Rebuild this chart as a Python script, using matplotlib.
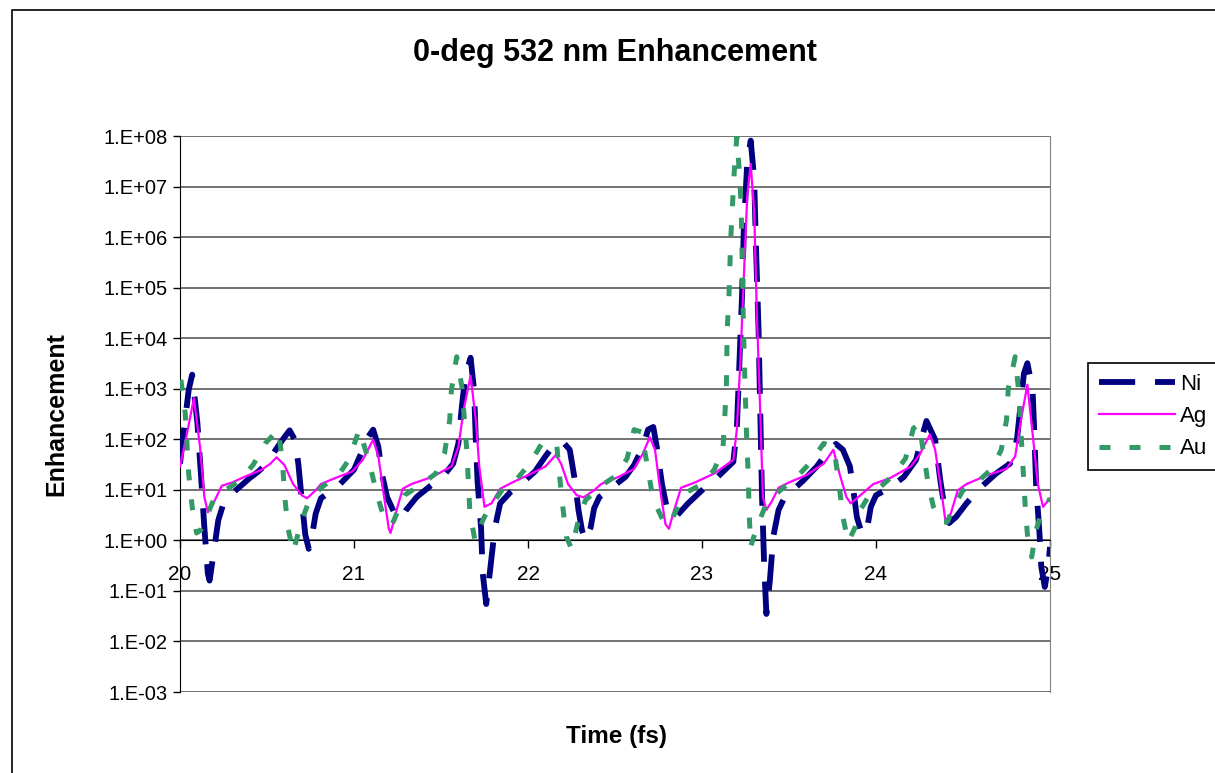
import math
import matplotlib.pyplot as plt
from matplotlib.patches import Rectangle
from matplotlib.ticker import FixedLocator, FuncFormatter

plt.rcParams['font.family'] = ['Liberation Sans', 'DejaVu Sans']

# time (fs) and enhancement per metal
ni_t = [20.00, 20.02, 20.05, 20.07, 20.10, 20.12, 20.14, 20.16, 20.17, 20.19,
        20.22, 20.25, 20.30, 20.35, 20.40, 20.45, 20.50, 20.55, 20.60, 20.63,
        20.66, 20.68, 20.70, 20.72, 20.74, 20.76, 20.78, 20.81, 20.86, 20.91,
        20.96, 21.00, 21.04, 21.08, 21.11, 21.14, 21.16, 21.19, 21.23, 21.27,
        21.30, 21.36, 21.44, 21.51, 21.57, 21.60, 21.62, 21.64, 21.67, 21.69,
        21.70, 21.71, 21.73, 21.74, 21.76, 21.78, 21.81, 21.84, 21.90, 21.97,
        22.04, 22.10, 22.15, 22.20, 22.24, 22.27, 22.29, 22.31, 22.33, 22.36,
        22.38, 22.41, 22.48, 22.56, 22.61, 22.66, 22.69, 22.72, 22.74, 22.77,
        22.80, 22.83, 22.86, 22.92, 23.00, 23.09, 23.18, 23.20, 23.215, 23.23,
        23.24, 23.26, 23.28, 23.30, 23.31, 23.325, 23.335, 23.345, 23.357, 23.37,
        23.39, 23.41, 23.44, 23.48, 23.51, 23.58, 23.66, 23.72, 23.77, 23.81,
        23.85, 23.87, 23.89, 23.92, 23.95, 23.97, 24.00, 24.08, 24.16, 24.23,
        24.27, 24.29, 24.34, 24.37, 24.39, 24.42, 24.46, 24.52, 24.60, 24.69,
        24.77, 24.81, 24.83, 24.85, 24.87, 24.90, 24.91, 24.92, 24.94, 24.95,
        24.97, 24.99, 25.00]
ni_e = [33, 130, 950, 1900, 210, 21, 1.8, 0.22, 0.16, 0.47,
        2.5, 5.4, 8.5, 12, 17, 23, 33, 62, 110, 150,
        98, 33, 6.2, 1.3, 0.68, 1.3, 3.4, 6.8, 9.1, 12,
        18, 25, 52, 110, 155, 71, 21, 7.2, 3.6, 2.7,
        4.0, 7.2, 12, 18, 33, 83, 450, 1800, 4100, 950,
        98, 15, 1.8, 0.22, 0.055, 0.22, 1.8, 5.4, 9.1, 14,
        23, 46, 78, 89, 62, 15, 4.0, 1.6, 1.0, 1.8,
        4.3, 7.2, 11, 18, 31, 71, 155, 175, 71, 13,
        4.0, 2.9, 3.2, 5.4, 9.8, 18, 36, 155, 3200, 6.8e4,
        1.4e6, 3.0e7, 8.1e7, 1.4e7, 6.8e5, 1.5e4, 330, 7.2, 0.35, 0.035,
        0.16, 1.2, 4.0, 7.8, 9.1, 15, 29, 56, 81, 62,
        29, 9.8, 2.9, 1.3, 1.8, 4.6, 7.8, 11, 18, 39,
        130, 230, 98, 15, 5.4, 2.2, 2.9, 5.4, 11, 21,
        33, 98, 450, 2000, 3200, 950, 130, 13, 1.3, 0.30,
        0.12, 0.30, 0.74]

ag_t = [20.00, 20.04, 20.08, 20.115, 20.14, 20.16, 20.20, 20.24, 20.30, 20.37,
        20.47, 20.52, 20.555, 20.60, 20.65, 20.70, 20.73, 20.78, 20.81, 20.89,
        20.99, 21.05, 21.11, 21.14, 21.17, 21.20, 21.21, 21.245, 21.28, 21.33,
        21.45, 21.56, 21.60, 21.63, 21.67, 21.70, 21.72, 21.75, 21.79, 21.84,
        21.91, 22.02, 22.10, 22.16, 22.19, 22.23, 22.28, 22.32, 22.38, 22.42,
        22.52, 22.61, 22.66, 22.70, 22.73, 22.76, 22.79, 22.81, 22.84, 22.88,
        22.96, 23.07, 23.18, 23.20, 23.22, 23.24, 23.26, 23.28, 23.30, 23.315,
        23.335, 23.35, 23.37, 23.40, 23.44, 23.50, 23.60, 23.70, 23.755, 23.79,
        23.83, 23.855, 23.91, 23.985, 24.08, 24.20, 24.25, 24.31, 24.34, 24.37,
        24.40, 24.43, 24.47, 24.52, 24.64, 24.75, 24.80, 24.83, 24.87, 24.90,
        24.93, 24.96, 25.00]
ag_e = [29, 130, 650, 71, 7.2, 3.6, 6.2, 12, 14, 18,
        25, 33, 44, 31, 13, 7.8, 6.8, 9.8, 13, 17,
        23, 39, 98, 46, 8.5, 1.7, 1.4, 4.0, 10.5, 13,
        18, 29, 71, 380, 1800, 240, 29, 4.6, 5.4, 10.5,
        14, 21, 29, 49, 33, 13, 7.8, 7.1, 9.8, 13,
        18, 26, 52, 110, 62, 9.8, 2.1, 1.7, 4.0, 11,
        14, 21, 39, 155, 3200, 1.5e5, 6.6e6, 2.8e7, 3.1e6, 3.2e4,
        330, 7.2, 4.0, 5.8, 11, 14, 19.5, 33, 62, 21,
        7.2, 5.4, 7.8, 13, 17, 29, 49, 125, 62, 13,
        2.3, 3.4, 9.8, 13, 19.5, 26, 46, 210, 1200, 130,
        13, 4.6, 6.8]

au_t = [20.005, 20.03, 20.05, 20.07, 20.095, 20.12, 20.16, 20.20, 20.26, 20.34,
        20.42, 20.49, 20.565, 20.59, 20.60, 20.62, 20.65, 20.70, 20.74, 20.81,
        20.91, 20.97, 21.03, 21.09, 21.13, 21.18, 21.22, 21.29, 21.39, 21.47,
        21.52, 21.55, 21.56, 21.59, 21.62, 21.635, 21.648, 21.657, 21.666, 21.695,
        21.74, 21.77, 21.85, 21.94, 22.01, 22.08, 22.10, 22.165, 22.18, 22.20,
        22.22, 22.25, 22.29, 22.33, 22.42, 22.51, 22.57, 22.61, 22.65, 22.68,
        22.71, 22.74, 22.78, 22.81, 22.90, 23.00, 23.07, 23.12, 23.13, 23.14,
        23.145, 23.155, 23.165, 23.175, 23.185, 23.20, 23.215, 23.225, 23.232, 23.238,
        23.248, 23.257, 23.267, 23.27, 23.28, 23.315, 23.37, 23.45, 23.545, 23.61,
        23.70, 23.745, 23.765, 23.79, 23.81, 23.84, 23.88, 23.91, 23.95, 24.02,
        24.10, 24.17, 24.215, 24.25, 24.27, 24.30, 24.33, 24.37, 24.41, 24.445,
        24.50, 24.59, 24.665, 24.72, 24.75, 24.76, 24.80, 24.82, 24.83, 24.84,
        24.85, 24.86, 24.875, 24.895, 24.92, 24.95, 24.98, 25.00]
au_e = [1500, 330, 21, 4.6, 1.4, 1.6, 3.4, 7.2, 9.8, 15,
        31, 83, 155, 33, 8.5, 1.8, 0.59, 2.5, 5.8, 11,
        19.5, 39, 155, 33, 8.5, 2.3, 2.1, 7.8, 13, 21,
        52, 240, 950, 4300, 1100, 240, 62, 15, 3.6, 1.0,
        2.5, 4.0, 9.8, 17, 33, 83, 89, 78, 21, 4.6,
        1.2, 0.68, 2.5, 6.2, 12, 19.5, 42, 155, 140, 39,
        9.8, 4.6, 2.3, 2.0, 8.5, 13, 25, 62, 240, 1100,
        1.5e4, 6.8e4, 9.1e5, 4.2e6, 1.9e7, 9.5e7, 1.9e7, 4.2e6, 2.3e5, 1.7e4,
        950, 98, 15, 4.0, 0.76, 1.8, 5.4, 9.8, 18, 31,
        83, 71, 46, 11, 2.9, 0.93, 1.8, 4.0, 6.8, 11,
        19.5, 42, 165, 200, 62, 13, 4.6, 2.3, 2.3, 4.6,
        9.8, 15, 26, 62, 240, 1000, 4300, 870, 220, 52,
        13, 3.4, 0.85, 0.47, 1.6, 3.4, 4.9, 6.8]

x_ticks = [20, 21, 22, 23, 24, 25]
y_exponents = list(range(-3, 9))

fig = plt.figure(figsize=(12.15, 7.73), dpi=100)
fig.patch.set_facecolor('white')

# chart border
fig.patches.append(Rectangle((12 / 1215, -0.05), 1.2, 1 - 10 / 773 + 0.05,
                             transform=fig.transFigure, fill=False,
                             edgecolor='black', linewidth=1.2))

ax = fig.add_axes([180 / 1215, 1 - 692 / 773, 870 / 1215, 556 / 773])
ax.set_yscale('log')
ax.set_xlim(20, 25)
ax.set_ylim(1e-3, 1e8)

for e in y_exponents:
    ax.axhline(10.0 ** e, color='#4a4a4a', linewidth=1.1, zorder=1)

ni_line, = ax.plot(ni_t, ni_e, color='#000080', linewidth=4.2,
                   dashes=(6.2, 3.4), zorder=3, label='Ni')
ag_line, = ax.plot(ag_t, ag_e, color='#FF00FF', linewidth=1.6,
                   zorder=4, label='Ag')
au_line, = ax.plot(au_t, au_e, color='#339966', linewidth=3.6,
                   dashes=(2.2, 3.8), zorder=5, label='Au')

# x axis crosses at 1
ax.spines['bottom'].set_position(('data', 1))
ax.spines['bottom'].set_color('black')
ax.spines['top'].set_visible(False)
ax.spines['right'].set_color('#808080')
ax.spines['left'].set_color('black')
ax.xaxis.set_major_locator(FixedLocator(x_ticks))
ax.tick_params(axis='x', direction='out', length=6, width=1, labelsize=15, pad=12)
ax.yaxis.set_major_locator(FixedLocator([10.0 ** e for e in y_exponents]))
ax.yaxis.set_minor_locator(FixedLocator([]))
ax.yaxis.set_major_formatter(FuncFormatter(lambda v, p: "1.E%+03d" % round(math.log10(v))))
ax.tick_params(axis='y', direction='out', length=5, width=1, labelsize=14.5, pad=4)

ax.set_title('0-deg 532 nm Enhancement', fontsize=22, fontweight='bold', pad=54)
ax.set_ylabel('Enhancement', fontsize=18, fontweight='bold', labelpad=25)
fig.text(617 / 1215, 1 - 737 / 773, 'Time (fs)', fontsize=17.5, fontweight='bold',
         ha='center', va='center')

leg = ax.legend(handles=[ni_line, ag_line, au_line], loc='upper left',
                bbox_to_anchor=(1088 / 1215, 1 - 363 / 773),
                bbox_transform=fig.transFigure, borderaxespad=0,
                fontsize=16, handlelength=3.4, handletextpad=0.25,
                labelspacing=0.5, fancybox=False, framealpha=1,
                edgecolor='black', borderpad=0.5)
leg.get_frame().set_linewidth(1.2)

fig.savefig('out.png', dpi=100)
